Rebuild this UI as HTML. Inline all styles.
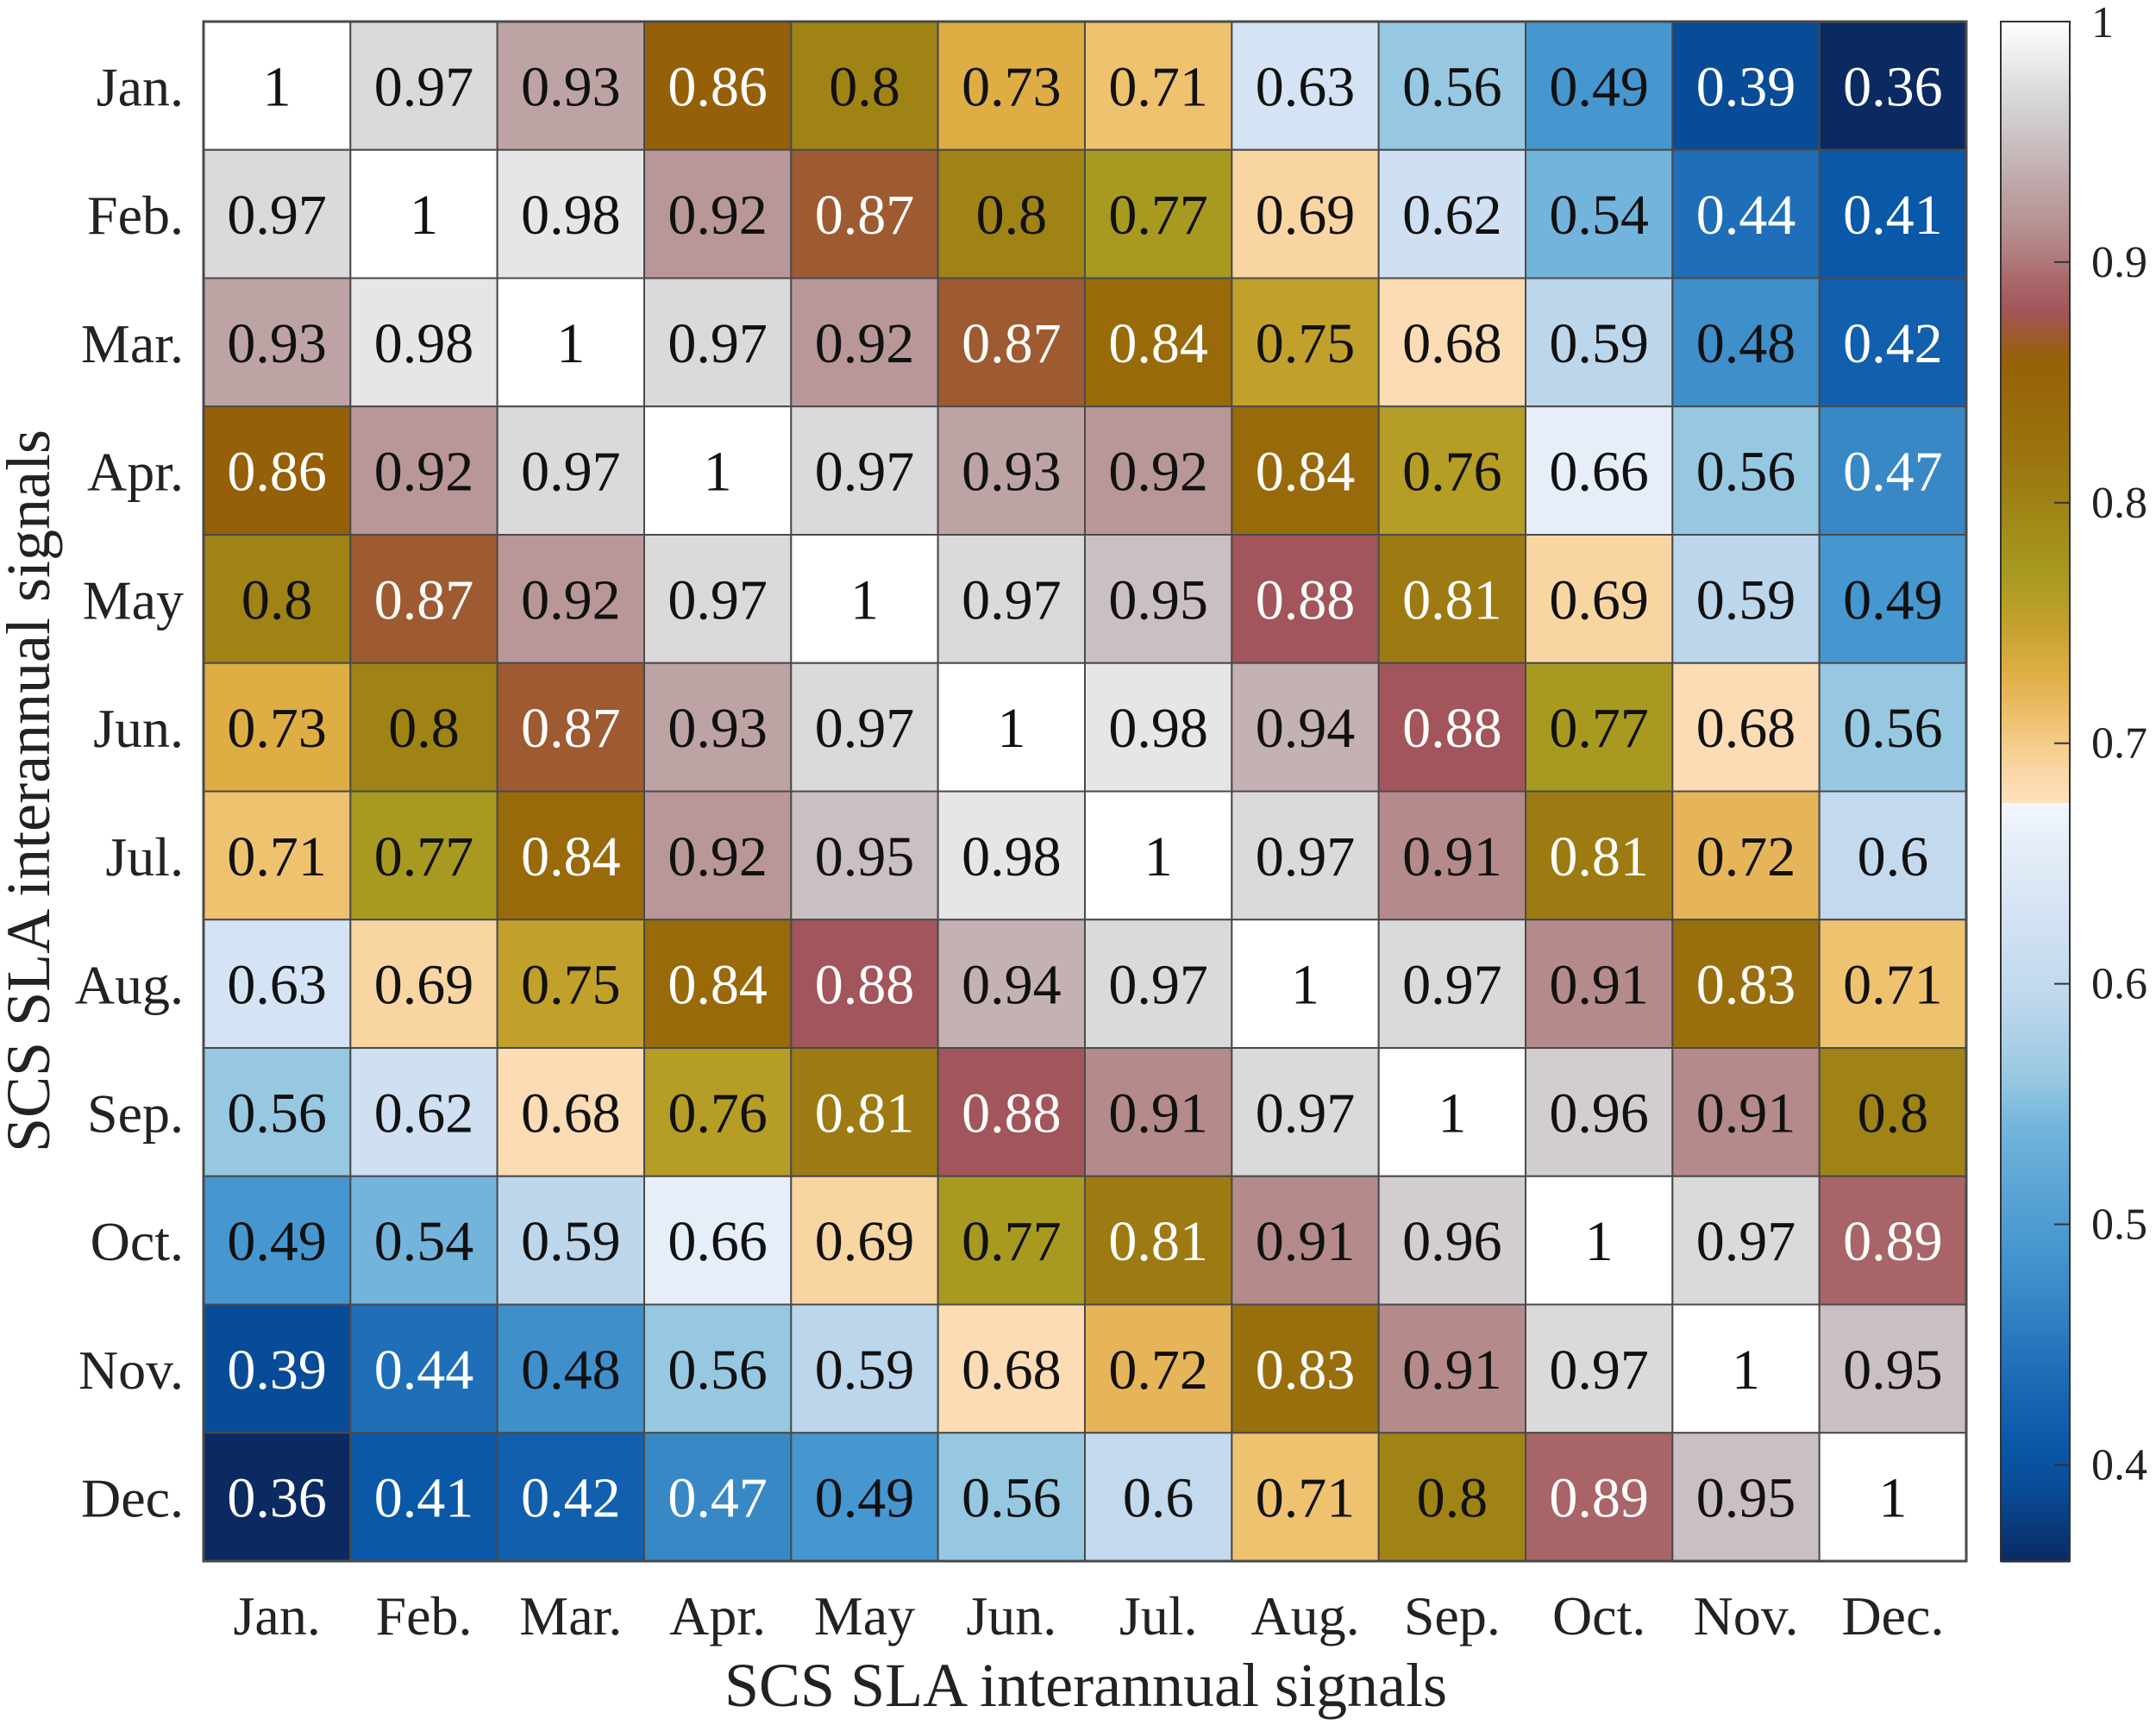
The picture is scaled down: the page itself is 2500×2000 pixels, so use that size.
<!DOCTYPE html>
<html><head><meta charset="utf-8"><style>
html,body{margin:0;padding:0;background:#fff;}
svg{display:block;font-family:"Liberation Serif","DejaVu Serif",serif;}
</style></head><body>
<svg id="chart" width="2500" height="2000" viewBox="0 0 2500 2000" xmlns="http://www.w3.org/2000/svg">
<rect width="2500" height="2000" fill="#fff"/>
<g id="cells"></g>
<g id="xlabels"></g>
<g id="ylabels"></g>
<g id="cbar"></g>
<text x="1259" y="1978" font-size="72" text-anchor="middle" fill="#222">SCS SLA interannual signals</text>
<text transform="translate(57,917) rotate(-90)" font-size="72" text-anchor="middle" fill="#222">SCS SLA interannual signals</text>
</svg>
<script>
const months = ["Jan.","Feb.","Mar.","Apr.","May","Jun.","Jul.","Aug.","Sep.","Oct.","Nov.","Dec."];
const rowJan = [1,0.97,0.93,0.86,0.8,0.73,0.71,0.63,0.56,0.49,0.39,0.36];
const rowFeb = [0.97,1,0.98,0.92,0.87,0.8,0.77,0.69,0.62,0.54,0.44,0.41];
const rowMar = [0.93,0.98,1,0.97,0.92,0.87,0.84,0.75,0.68,0.59,0.48,0.42];
const rowApr = [0.86,0.92,0.97,1,0.97,0.93,0.92,0.84,0.76,0.66,0.56,0.47];
const rowMay = [0.8,0.87,0.92,0.97,1,0.97,0.95,0.88,0.81,0.69,0.59,0.49];
const rowJun = [0.73,0.8,0.87,0.93,0.97,1,0.98,0.94,0.88,0.77,0.68,0.56];
const rowJul = [0.71,0.77,0.84,0.92,0.95,0.98,1,0.97,0.91,0.81,0.72,0.6];
const rowAug = [0.63,0.69,0.75,0.84,0.88,0.94,0.97,1,0.97,0.91,0.83,0.71];
const rowSep = [0.56,0.62,0.68,0.76,0.81,0.88,0.91,0.97,1,0.96,0.91,0.8];
const rowOct = [0.49,0.54,0.59,0.66,0.69,0.77,0.81,0.91,0.96,1,0.97,0.89];
const rowNov = [0.39,0.44,0.48,0.56,0.59,0.68,0.72,0.83,0.91,0.97,1,0.95];
const rowDec = [0.36,0.41,0.42,0.47,0.49,0.56,0.6,0.71,0.8,0.89,0.95,1];
const matrix = [rowJan,rowFeb,rowMar,rowApr,rowMay,rowJun,rowJul,rowAug,rowSep,rowOct,rowNov,rowDec];
const cbTicks = [0.4,0.5,0.6,0.7,0.8,0.9,1];
const cbTickLabels = ["0.4","0.5","0.6","0.7","0.8","0.9","1"];
const cmin = 0.36, cmax = 1;

const stops = [
 [0.36,"#0b2a62"],[0.39,"#084c98"],[0.41,"#0a58a8"],[0.44,"#1f6eb8"],[0.47,"#3888c6"],[0.49,"#4696cf"],
 [0.54,"#72b4dc"],[0.56,"#96c8e2"],[0.59,"#bcd6ec"],[0.62,"#cfe0f2"],[0.66,"#e6eef8"],[0.6749,"#f2f7fd"],
 [0.675,"#fde0bd"],[0.69,"#f9d5a2"],[0.71,"#efc270"],[0.72,"#e6b55a"],[0.73,"#deae45"],[0.75,"#c2a02c"],
 [0.77,"#a89a20"],[0.8,"#9f8315"],[0.82,"#9a7410"],[0.84,"#986a0a"],[0.86,"#966008"],[0.87,"#9e5a30"],
 [0.88,"#a2555a"],[0.89,"#a86466"],[0.91,"#b48a8a"],[0.93,"#bea3a5"],[0.95,"#cac0c1"],[0.97,"#dadada"],
 [0.98,"#e6e6e6"],[1,"#ffffff"]];
function hex2rgb(h){return [1,3,5].map(i=>parseInt(h.substr(i,2),16));}
function cmap(v){
  if(v<=stops[0][0]) return stops[0][1];
  for(let i=1;i<stops.length;i++){
    if(v<=stops[i][0]){
      const t=(v-stops[i-1][0])/(stops[i][0]-stops[i-1][0]);
      const a=hex2rgb(stops[i-1][1]),b=hex2rgb(stops[i][1]);
      return "rgb("+a.map((x,k)=>Math.round(x+(b[k]-x)*t)).join(",")+")";
    }
  }
  return stops[stops.length-1][1];
}
const NS="http://www.w3.org/2000/svg";
function mk(tag,attrs,parent){const e=document.createElementNS(NS,tag);for(const k in attrs)e.setAttribute(k,attrs[k]);parent.appendChild(e);return e;}

const L=236,R=2280,T=25,B=1810;
const n=months.length, cw=(R-L)/n, ch=(B-T)/n;
const xPos=j=>L+j*cw, yPos=i=>T+i*ch;

const cells=document.getElementById("cells");
matrix.forEach((row,i)=>{
  row.forEach((v,j)=>{
    const r=mk("rect",{x:xPos(j),y:yPos(i),width:cw,height:ch,fill:cmap(v),stroke:"#4a4a4a","stroke-width":2},cells);
    
    
    const white = v<0.475 || (v>0.805 && v<0.895);
    const t=mk("text",{x:xPos(j)+cw/2,y:yPos(i)+ch/2+23,"font-size":66,"text-anchor":"middle",fill:white?"#fff":"#111"},cells);
    
    
    t.textContent=String(v);
  });
});
mk("rect",{x:L,y:T,width:R-L,height:B-T,fill:"none",stroke:"#4a4a4a","stroke-width":3},cells);

const xl=document.getElementById("xlabels"), yl=document.getElementById("ylabels");
months.forEach((m,k)=>{
  const tx=mk("text",{x:xPos(k)+cw/2,y:1895,"font-size":64,"text-anchor":"middle",fill:"#222"},xl);
  
  
  tx.textContent=m;
  const ty=mk("text",{x:213,y:yPos(k)+ch/2+23,"font-size":64,"text-anchor":"end",fill:"#222"},yl);
  
  
  ty.textContent=m;
});

const cb=document.getElementById("cbar");
const CL=2320,CR=2400;
const cy=v=>B-(v-cmin)/(cmax-cmin)*(B-T);
for(let y=T;y<B;y+=2){
  const v=cmax-(y-T+1)/(B-T)*(cmax-cmin);
  mk("rect",{x:CL,y:y,width:CR-CL,height:2.5,fill:cmap(v)},cb);
}
mk("rect",{x:CL,y:T,width:CR-CL,height:B-T,fill:"none",stroke:"#333","stroke-width":2},cb);
cbTicks.forEach((v,k)=>{
  const y=cy(v);
  mk("line",{x1:CR-18,x2:CR,y1:y,y2:y,stroke:"#333","stroke-width":2},cb);
  const t=mk("text",{x:2425,y:(v===1?y+18:y+17),"font-size":52,fill:"#222"},cb);
  
  
  t.textContent=cbTickLabels[k];
});
</script>
</body></html>
